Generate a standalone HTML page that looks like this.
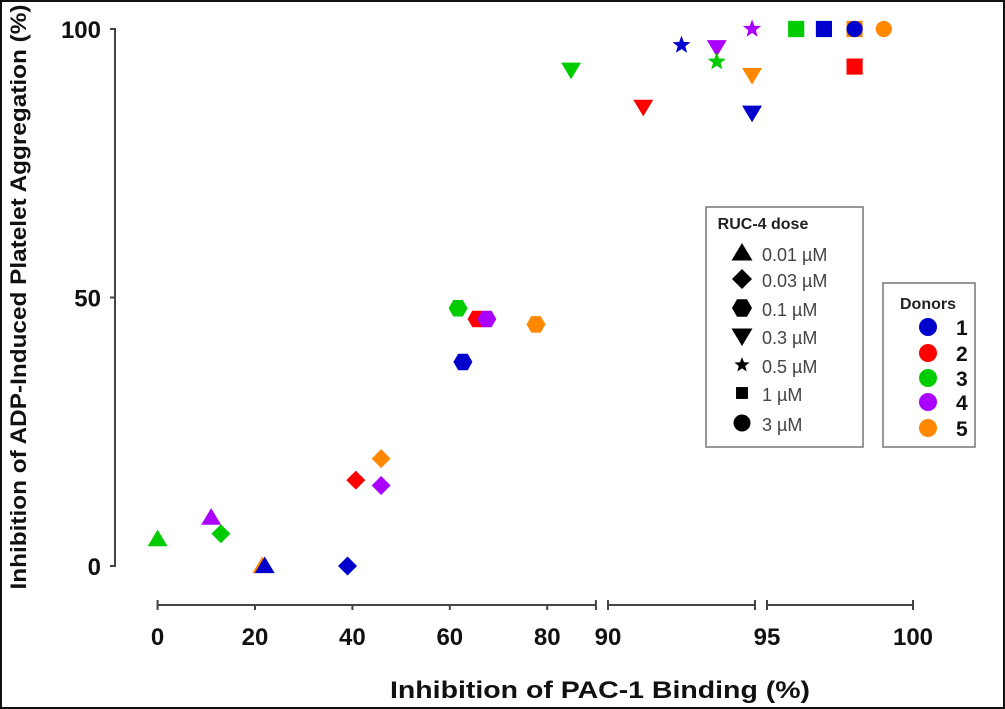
<!DOCTYPE html>
<html><head><meta charset="utf-8"><style>
html,body{margin:0;padding:0;background:#fff}
svg{display:block}
text{font-family:"Liberation Sans",Arial,sans-serif}
</style></head><body>
<svg id="chart" width="1005" height="709" viewBox="0 0 1005 709" xmlns="http://www.w3.org/2000/svg">
<rect x="1" y="1" width="1003" height="707" fill="#fff" stroke="#111" stroke-width="2"/>
<g id="axes"></g>
<g id="marks"></g>
<g>
<rect x="706" y="207" width="157" height="240" fill="#fff" stroke="#777" stroke-width="1.5"/>
<text x="763" y="229" font-size="16" font-weight="bold" text-anchor="middle" fill="#222">RUC-4 dose</text>
<g id="doseleg"></g>
</g>
<g>
<rect x="883" y="283" width="92" height="164" fill="#fff" stroke="#777" stroke-width="1.5"/>
<text x="928" y="309" font-size="16" font-weight="bold" text-anchor="middle" fill="#222">Donors</text>
<g id="donorleg"></g>
</g>
<text transform="translate(26,297) rotate(-90)" font-size="22" font-weight="bold" text-anchor="middle" fill="#111" textLength="585" lengthAdjust="spacingAndGlyphs">Inhibition of ADP-Induced Platelet Aggregation (%)</text>
<text x="600" y="698" font-size="24" font-weight="bold" text-anchor="middle" fill="#111" textLength="420" lengthAdjust="spacingAndGlyphs">Inhibition of PAC-1 Binding (%)</text>
</svg>
<script>
const xVals=[0,21.5,22,11,13,40.7,39,45.9,45.9,61.7,65.6,67.6,77.7,62.7,84.9,91.2,94.9,93.7,94.9,92.5,93.7,94.9,96,96.95,98,98,98,99];
const yVals=[5,0,0,9,6,16,0,20,15,48,46,46,45,38,92.4,85.5,84.4,96.6,91.4,97,93.9,100,100,100,100,93,100,100];
const donors=[3,5,1,4,3,2,1,5,4,3,2,4,5,1,3,2,1,4,5,1,3,4,3,1,5,2,1,5];
const doses=["tri","tri","tri","tri","dia","dia","dia","dia","dia","hex","hex","hex","hex","hex","tdn","tdn","tdn","tdn","tdn","star","star","star","sq","sq","sq","sq","circ","circ"];
const yTicks=[0,50,100];
const xTicks=[0,20,40,60,80,90,95,100];
const donorColors=["#0000cc","#ff0000","#00cc00","#aa00ff","#ff8800"];
const doseLabels=["0.01 µM","0.03 µM","0.1 µM","0.3 µM","0.5 µM","1 µM","3 µM"];
const doseShapes=["tri","dia","hex","tdn","star","sq","circ"];
const NS="http://www.w3.org/2000/svg";
function yS(v){return 566-v*5.37;}
function xS(v,seg){
  if(seg===undefined){seg=v<=90?1:(v<=95?2:3);}
  if(seg===1)return 157.6+v*4.87;
  if(seg===2)return 608+(v-90)*29.4;
  return 767+(v-95)*29.2;
}
function mk(tag,attrs,parent){const e=document.createElementNS(NS,tag);for(const k in attrs)e.setAttribute(k,attrs[k]);parent.appendChild(e);return e;}
function shapePath(s,cx,cy,r){
  let p=[];
  if(s==="tri"){return `M${cx},${cy-r} L${cx+r*1.05},${cy+r*0.75} L${cx-r*1.05},${cy+r*0.75}Z`;}
  if(s==="tdn"){return `M${cx},${cy+r} L${cx+r*1.05},${cy-r*0.75} L${cx-r*1.05},${cy-r*0.75}Z`;}
  if(s==="dia"){return `M${cx},${cy-r} L${cx+r},${cy} L${cx},${cy+r} L${cx-r},${cy}Z`;}
  if(s==="sq"){const a=r*0.85;return `M${cx-a},${cy-a} H${cx+a} V${cy+a} H${cx-a}Z`;}
  if(s==="hex"){for(let i=0;i<6;i++){const t=Math.PI/3*i;p.push((cx+r*Math.cos(t)).toFixed(1)+","+(cy+r*Math.sin(t)).toFixed(1));}return "M"+p.join(" L")+"Z";}
  if(s==="star"){for(let i=0;i<10;i++){const t=-Math.PI/2+Math.PI/5*i;const rr=i%2?r*0.42:r;p.push((cx+rr*Math.cos(t)).toFixed(1)+","+(cy+rr*Math.sin(t)).toFixed(1));}return "M"+p.join(" L")+"Z";}
  return null;
}
function drawShape(s,cx,cy,r,fill,parent){
  if(s==="circ")return mk("circle",{cx:cx,cy:cy,r:r*0.85,fill:fill},parent);
  return mk("path",{d:shapePath(s,cx,cy,r),fill:fill},parent);
}
const axes=document.getElementById("axes");
const ya=mk("path",{d:`M110,${yS(100)} H115 V${yS(0)} H110`,stroke:"#444","stroke-width":2,fill:"none"},axes);


yTicks.forEach(v=>{
  mk("line",{x1:110,x2:115,y1:yS(v),y2:yS(v),stroke:"#444","stroke-width":2},axes);
  const t=mk("text",{x:101,y:yS(v)+9,"font-size":24,"font-weight":"bold","text-anchor":"end",fill:"#111"},axes);
  t.textContent=v;
  
  
});
const AY=605;
[[0,90,1],[90,95,2],[95,100,3]].forEach(sg=>{
  const l=mk("line",{x1:xS(sg[0],sg[2]),x2:xS(sg[1],sg[2]),y1:AY,y2:AY,stroke:"#444","stroke-width":2},axes);
  
  
  mk("line",{x1:xS(sg[0],sg[2]),x2:xS(sg[0],sg[2]),y1:AY-5,y2:AY+5,stroke:"#444","stroke-width":2},axes);
  mk("line",{x1:xS(sg[1],sg[2]),x2:xS(sg[1],sg[2]),y1:AY-5,y2:AY+5,stroke:"#444","stroke-width":2},axes);
});
xTicks.forEach(v=>{
  const seg=v<90?1:(v<95?2:3);
  const x=xS(v,seg);
  if(v>0&&v<90)mk("line",{x1:x,x2:x,y1:AY,y2:AY+5,stroke:"#444","stroke-width":2},axes);
  const t=mk("text",{x:x,y:AY+40,"font-size":24,"font-weight":"bold","text-anchor":"middle",fill:"#111"},axes);
  t.textContent=v;
  
  
});
const marks=document.getElementById("marks");
for(let i=0;i<xVals.length;i++){
  const e=drawShape(doses[i],xS(xVals[i]),yS(yVals[i]),9.5,donorColors[donors[i]-1],marks);
  
  
}
const dl=document.getElementById("doseleg");
const dRows=[255,281,310,338,367,395,425];
doseShapes.forEach((s,i)=>{
  const e=drawShape(s,742,dRows[i]-2,s==="star"?8:(s==="sq"?7:10),"#000",dl);
  
  
  const t=mk("text",{x:762,y:dRows[i]+6,"font-size":18,fill:"#444"},dl);
  t.textContent=doseLabels[i];
  
  
});
const nl=document.getElementById("donorleg");
const nRows=[327,353,378,402,428];
donorColors.forEach((c,i)=>{
  const e=mk("circle",{cx:928,cy:nRows[i],r:9,fill:c},nl);
  
  
  const t=mk("text",{x:956,y:nRows[i]+8,"font-size":21,"font-weight":"bold",fill:"#111"},nl);
  t.textContent=i+1;
  
  
});
</script>
</body></html>
